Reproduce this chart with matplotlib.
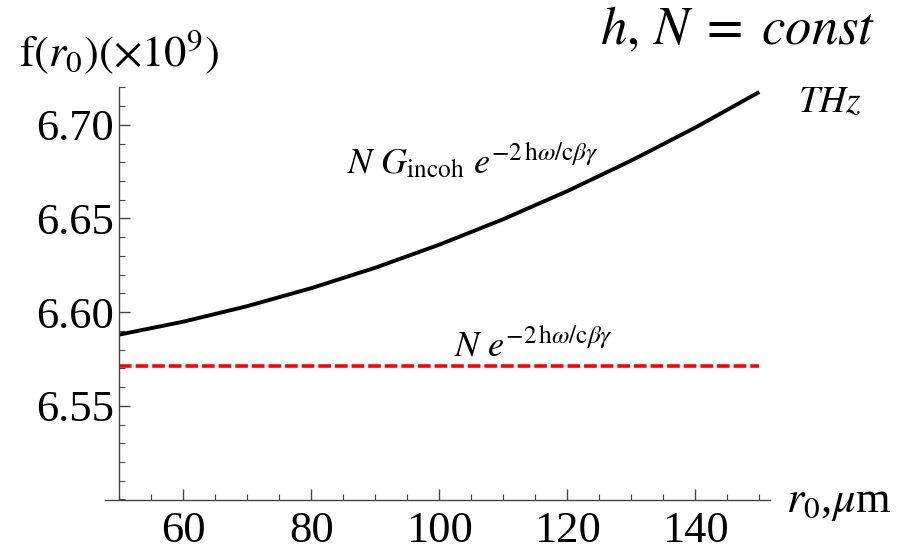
#!/usr/bin/env python3
import numpy as np
import matplotlib.pyplot as plt
from matplotlib.ticker import MultipleLocator

plt.rcParams['font.family'] = 'Liberation Serif'
plt.rcParams['mathtext.fontset'] = 'stix'

# r0 in um, f(r0) in units of 1e9
r0 = [50, 60, 70, 80, 90, 100, 110, 120, 130, 140, 150]
f_incoh = [6.5880, 6.5949, 6.6032, 6.6128, 6.6237, 6.6360,
           6.6496, 6.6646, 6.6809, 6.6985, 6.7175]
f_const = 6.5715

W, H = 909, 553
fig = plt.figure(figsize=(W / 100, H / 100), dpi=100)

# axes box in pixels: left 105, right 770, bottom 499.5, top 87.3
ax = fig.add_axes([105 / W, 1 - 499.5 / H, (770 - 105) / W, (499.5 - 87.3) / H])

# x data -> pixel: 6.4 px per unit, 50 sits at px 119
xmin = 50 - (119.3 - 105) / 6.4
xmax = 50 + (770 - 119.3) / 6.4
ax.set_xlim(xmin, xmax)
ax.set_ylim(6.50, 6.72)

ax.plot(r0, f_incoh, color='black', lw=2.8, solid_capstyle='butt')
ax.plot([r0[0], r0[-1]], [f_const, f_const], color='red', lw=2.6,
        dashes=(3.5, 1.1))

for s in ['top', 'right']:
    ax.spines[s].set_visible(False)
ax.spines['left'].set_position(('data', 50))
for s in ['left', 'bottom']:
    ax.spines[s].set_color('#444444')
    ax.spines[s].set_linewidth(1.0)

ax.xaxis.set_major_locator(MultipleLocator(20))
ax.xaxis.set_minor_locator(MultipleLocator(5))
ax.yaxis.set_major_locator(MultipleLocator(0.05))
ax.yaxis.set_minor_locator(MultipleLocator(0.01))
ax.set_xticks([60, 80, 100, 120, 140])
ax.set_yticks([6.55, 6.60, 6.65, 6.70])
ax.set_yticklabels(['6.55', '6.60', '6.65', '6.70'])
ax.tick_params(which='both', direction='in', color='#444444', labelsize=32)
ax.tick_params(which='major', length=8, width=1.0)
ax.tick_params(which='minor', length=4, width=0.8)
ax.tick_params(axis='x', pad=8)
ax.tick_params(axis='y', pad=4)

fig.text(119 / W, 1 - 52 / H, r'$\mathrm{f}(r_0)(\times 10^9)$', fontsize=32,
         ha='center', va='center')
fig.text(738 / W, 1 - 31 / H, r'$h,\,N\;=\;const$', fontsize=38,
         ha='center', va='center')
fig.text(830 / W, 1 - 103 / H, r'$THz$', fontsize=27,
         ha='center', va='center')
fig.text(839 / W, 1 - 512 / H, r'$r_0$,$\mu$m', fontsize=32,
         ha='center', va='baseline')

ax.text(347 / W, 1 - 173 / H,
        r'$N\ G_{\mathrm{incoh}}\ e^{-2\,\mathrm{h}\omega/\mathrm{c}\beta\gamma}$',
        transform=fig.transFigure, fontsize=26, ha='left', va='baseline')
ax.text(454 / W, 1 - 355 / H,
        r'$N\ e^{-2\,\mathrm{h}\omega/\mathrm{c}\beta\gamma}$',
        transform=fig.transFigure, fontsize=26, ha='left', va='baseline')

fig.savefig('out.png', dpi=100)
